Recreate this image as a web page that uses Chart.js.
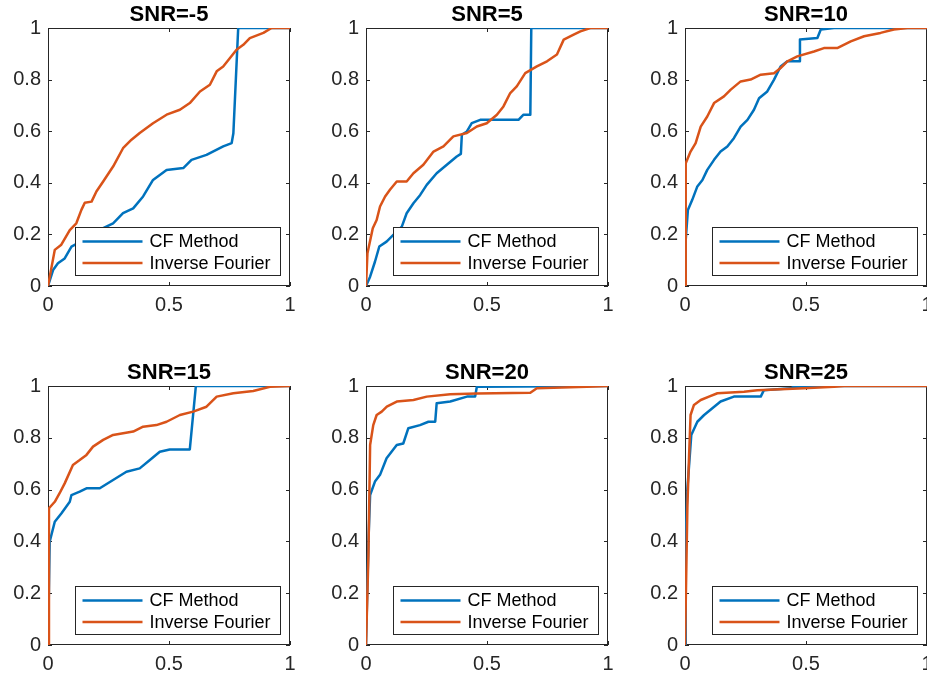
<!DOCTYPE html>
<html>
<head>
<meta charset="utf-8">
<script src="https://cdn.jsdelivr.net/npm/chart.js@4"></script>
<style>
  html, body { margin: 0; padding: 0; background: #fff; overflow: hidden; }
  body { width: 927px; height: 675px; position: relative; }
  canvas { position: absolute; }
</style>
</head>
<body>
<canvas id="c0" width="300" height="326" style="left:0px;top:0px"></canvas>
<canvas id="c1" width="300" height="326" style="left:318px;top:0px"></canvas>
<canvas id="c2" width="300" height="326" style="left:637px;top:0px"></canvas>
<canvas id="c3" width="300" height="327" style="left:0px;top:358px"></canvas>
<canvas id="c4" width="300" height="327" style="left:318px;top:358px"></canvas>
<canvas id="c5" width="300" height="327" style="left:637px;top:358px"></canvas>
<script>
// ROC curves, [false positive rate, true positive rate]
const snrLevels = [-5, 5, 10, 15, 20, 25];
const seriesNames = ['CF Method', 'Inverse Fourier'];
const xTicks = [0, 0.5, 1];
const yTicks = [0, 0.2, 0.4, 0.6, 0.8, 1];

const cf_m5 = [[0,0],[0.021,0.062],[0.041,0.088],[0.069,0.107],[0.097,0.153],[0.16,0.185],[0.2,0.21],
  [0.228,0.224],[0.269,0.243],[0.31,0.282],[0.352,0.301],[0.393,0.347],[0.434,0.411],[0.49,0.45],
  [0.559,0.457],[0.593,0.489],[0.655,0.508],[0.724,0.541],[0.759,0.554],[0.766,0.592],[0.786,1],[1,1]];
const if_m5 = [[0,0],[0.028,0.14],[0.055,0.16],[0.09,0.217],[0.117,0.243],[0.138,0.295],[0.152,0.323],
  [0.18,0.327],[0.2,0.366],[0.228,0.405],[0.269,0.463],[0.31,0.534],[0.345,0.567],[0.379,0.593],
  [0.434,0.631],[0.49,0.664],[0.545,0.683],[0.586,0.709],[0.628,0.754],[0.669,0.78],[0.697,0.832],
  [0.724,0.851],[0.752,0.884],[0.779,0.916],[0.807,0.935],[0.834,0.961],[0.89,0.981],[0.924,1],[1,1]];

const cf_5 = [[0,0],[0.017,0.036],[0.037,0.094],[0.055,0.153],[0.085,0.172],[0.113,0.198],[0.148,0.23],
  [0.168,0.282],[0.196,0.321],[0.224,0.353],[0.251,0.392],[0.292,0.437],[0.334,0.47],[0.375,0.502],
  [0.392,0.512],[0.396,0.586],[0.417,0.599],[0.437,0.631],[0.472,0.644],[0.63,0.644],[0.651,0.664],
  [0.679,0.664],[0.683,1],[1,1]];
const if_5 = [[0,0],[0.006,0.127],[0.028,0.224],[0.044,0.256],[0.058,0.308],[0.079,0.347],[0.099,0.373],
  [0.127,0.405],[0.168,0.405],[0.196,0.437],[0.237,0.47],[0.279,0.521],[0.32,0.541],[0.361,0.58],
  [0.417,0.593],[0.458,0.618],[0.499,0.631],[0.541,0.664],[0.568,0.696],[0.596,0.748],[0.623,0.774],
  [0.658,0.825],[0.706,0.851],[0.748,0.871],[0.789,0.897],[0.817,0.955],[0.858,0.974],[0.886,0.987],
  [0.927,1],[1,1]];

const cf_10 = [[0,0],[0.003,0.179],[0.012,0.295],[0.03,0.334],[0.051,0.386],[0.072,0.411],[0.092,0.45],
  [0.12,0.489],[0.147,0.521],[0.175,0.541],[0.202,0.573],[0.23,0.618],[0.258,0.644],[0.285,0.683],
  [0.306,0.728],[0.34,0.754],[0.368,0.8],[0.395,0.851],[0.423,0.871],[0.475,0.871],[0.475,0.955],
  [0.547,0.961],[0.561,0.994],[0.616,1],[1,1]];
const if_10 = [[0,0],[0.003,0.476],[0.023,0.521],[0.044,0.554],[0.065,0.618],[0.092,0.657],[0.12,0.709],
  [0.161,0.735],[0.189,0.761],[0.23,0.793],[0.271,0.8],[0.313,0.819],[0.368,0.825],[0.395,0.845],
  [0.423,0.871],[0.464,0.89],[0.533,0.909],[0.574,0.922],[0.629,0.922],[0.685,0.948],[0.74,0.968],
  [0.808,0.981],[0.863,0.994],[0.919,1],[1,1]];

const cf_15 = [[0,0],[0.007,0.399],[0.028,0.476],[0.055,0.508],[0.09,0.553],[0.097,0.579],[0.131,0.592],
  [0.159,0.605],[0.214,0.605],[0.269,0.637],[0.324,0.669],[0.379,0.682],[0.421,0.714],[0.462,0.746],
  [0.503,0.755],[0.586,0.755],[0.611,1],[1,1]];
const if_15 = [[0,0],[0.004,0.528],[0.028,0.553],[0.048,0.586],[0.069,0.624],[0.103,0.695],[0.131,0.714],
  [0.159,0.734],[0.186,0.766],[0.228,0.792],[0.269,0.811],[0.352,0.824],[0.393,0.843],[0.448,0.849],
  [0.49,0.862],[0.545,0.888],[0.6,0.901],[0.655,0.92],[0.697,0.959],[0.766,0.972],[0.848,0.981],
  [0.917,0.997],[1,1]];

const cf_20 = [[0,0],[0.01,0.399],[0.017,0.579],[0.037,0.631],[0.058,0.657],[0.085,0.721],[0.127,0.772],
  [0.154,0.778],[0.175,0.837],[0.223,0.849],[0.258,0.862],[0.286,0.862],[0.292,0.933],[0.348,0.94],
  [0.417,0.959],[0.451,0.959],[0.458,0.997],[1,1]];
const if_20 = [[0,0],[0.01,0.347],[0.017,0.772],[0.03,0.849],[0.044,0.888],[0.065,0.901],[0.086,0.92],
  [0.127,0.94],[0.196,0.946],[0.251,0.959],[0.348,0.968],[0.458,0.971],[0.679,0.974],[0.706,0.991],
  [0.913,0.997],[1,1]];

const cf_25 = [[0,0],[0.003,0.412],[0.01,0.605],[0.026,0.811],[0.051,0.862],[0.079,0.888],[0.113,0.914],
  [0.147,0.94],[0.202,0.959],[0.313,0.959],[0.326,0.984],[0.437,0.991],[0.45,0.997],[0.561,1],[1,1]];
const if_25 = [[0,0],[0.01,0.541],[0.017,0.734],[0.023,0.888],[0.037,0.927],[0.065,0.946],[0.099,0.959],
  [0.134,0.972],[0.244,0.978],[0.299,0.984],[0.492,0.991],[0.616,0.997],[0.657,1],[1,1]];

const cfCurves = [cf_m5, cf_5, cf_10, cf_15, cf_20, cf_25];
const ifCurves = [if_m5, if_5, if_10, if_15, if_20, if_25];

const FONT = '"Liberation Sans", Arial, Helvetica, sans-serif';
const AXIS = '#262626';
const BLUE = '#0072BD';
const ORANGE = '#D95319';

// axes box with inward ticks on all four sides
const boxFrame = {
  id: 'boxFrame',
  beforeDatasetsDraw(chart) {
    const { ctx, chartArea: a, scales: { x, y } } = chart;
    ctx.save();
    ctx.strokeStyle = AXIS;
    ctx.lineWidth = 1;
    ctx.strokeRect(a.left + 0.5, a.top + 0.5, a.width - 1, a.height - 1);
    ctx.beginPath();
    xTicks.forEach(v => {
      const px = Math.round(x.getPixelForValue(v)) + 0.5;
      ctx.moveTo(px, a.bottom); ctx.lineTo(px, a.bottom - 4);
      ctx.moveTo(px, a.top); ctx.lineTo(px, a.top + 4);
    });
    yTicks.forEach(v => {
      const py = Math.round(y.getPixelForValue(v)) + 0.5;
      ctx.moveTo(a.left, py); ctx.lineTo(a.left + 4, py);
      ctx.moveTo(a.right, py); ctx.lineTo(a.right - 4, py);
    });
    ctx.stroke();
    ctx.restore();
  }
};

// boxed legend in the lower right corner of the plot area
const boxLegend = {
  id: 'boxLegend',
  afterDraw(chart) {
    const { ctx, chartArea: a } = chart;
    const w = 205, h = 48;
    const left = Math.round(a.right - 10 - w) + 0.5;
    const top = Math.round(a.bottom - 11 - h) + 0.5;
    ctx.save();
    ctx.fillStyle = '#fff';
    ctx.fillRect(left, top, w, h);
    ctx.strokeStyle = AXIS;
    ctx.lineWidth = 1;
    ctx.strokeRect(left, top, w, h);
    chart.data.datasets.forEach((ds, i) => {
      const rowY = top + 14 + i * 21.5;
      ctx.strokeStyle = ds.borderColor;
      ctx.lineWidth = 2.5;
      ctx.beginPath();
      ctx.moveTo(left + 7, rowY);
      ctx.lineTo(left + 67, rowY);
      ctx.stroke();
      ctx.fillStyle = '#000';
      ctx.font = '18px ' + FONT;
      ctx.textBaseline = 'middle';
      ctx.textAlign = 'left';
      ctx.fillText(ds.label, left + 74, rowY + 1);
    });
    ctx.restore();
  }
};

function makeScale(ticks, extra) {
  return Object.assign({
    type: 'linear',
    min: 0,
    max: 1,
    afterBuildTicks: s => { s.ticks = ticks.map(v => ({ value: v })); },
    grid: { display: false, drawTicks: false },
    border: { display: false },
    ticks: {
      color: AXIS,
      padding: 7,
      font: { family: FONT, size: 20 },
      autoSkip: false,
      maxRotation: 0,
      callback: v => String(v)
    }
  }, extra);
}

snrLevels.forEach((snr, i) => {
  const toPoints = arr => arr.map(([x, y]) => ({ x, y }));
  new Chart(document.getElementById('c' + i), {
    type: 'line',
    data: {
      datasets: [
        { label: seriesNames[0], data: toPoints(cfCurves[i]), borderColor: BLUE, order: 1 },
        { label: seriesNames[1], data: toPoints(ifCurves[i]), borderColor: ORANGE, order: 0 }
      ]
    },
    options: {
      responsive: false,
      animation: false,
      layout: { padding: { left: 0, right: 10, top: 0, bottom: 0 } },
      elements: {
        line: { borderWidth: 2.5, tension: 0, fill: false, borderJoinStyle: 'round' },
        point: { radius: 0, hoverRadius: 0 }
      },
      plugins: {
        legend: { display: false },
        tooltip: { enabled: false },
        title: {
          display: true,
          text: 'SNR=' + snr,
          color: '#000',
          fullSize: false,
          font: { family: FONT, size: 22, weight: 'bold', lineHeight: 1 },
          padding: { top: 4, bottom: 2 }
        }
      },
      scales: {
        x: makeScale(xTicks, {
          afterFit: s => { s.height = 40; s.paddingLeft = 0; s.paddingRight = 0; }
        }),
        y: makeScale(yTicks, {
          afterFit: s => { s.width = 48; s.paddingTop = 0; s.paddingBottom = 0; }
        })
      }
    },
    plugins: [boxFrame, boxLegend]
  });
});
</script>
</body>
</html>
